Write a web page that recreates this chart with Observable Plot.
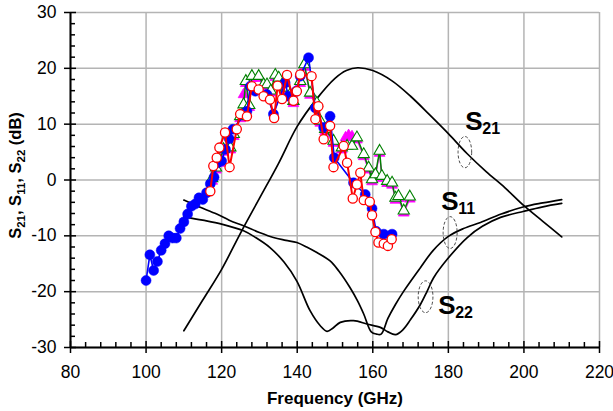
<!DOCTYPE html>
<html><head><meta charset="utf-8">
<script src="https://cdn.jsdelivr.net/npm/d3@7"></script>
<script src="https://cdn.jsdelivr.net/npm/@observablehq/plot@0.6"></script>
<style>body{margin:0;background:#fff}</style>
</head><body><div id="chart"></div>
<script>
// Axis ticks
const xTicks = [80, 100, 120, 140, 160, 180, 200, 220];
const yTicks = [-30, -20, -10, 0, 10, 20, 30];
const xMinor = [84, 88, 92, 96, 104, 108, 112, 116, 124, 128, 132, 136, 144, 148, 152, 156, 164, 168, 172, 176, 184, 188, 192, 196, 204, 208, 212, 216];
const yMinor = [-28, -26, -24, -22, -18, -16, -14, -12, -8, -6, -4, -2, 2, 4, 6, 8, 12, 14, 16, 18, 22, 24, 26, 28];

// Simulated curves (black)
const s21X = [110, 115, 120, 125, 130, 135, 140, 145, 150, 153, 156, 160, 165, 170, 175, 180, 185, 190, 195, 200, 205, 210];
const s21Y = [-27, -21.5, -16, -9.5, -3.3, 2.9, 9.6, 14.4, 18.2, 19.6, 20.1, 19.6, 17.8, 15.0, 11.7, 8.3, 4.7, 1.5, -1.4, -4.6, -7.4, -10.2];
const s11X = [110, 114, 118.7, 122, 125.8, 130, 133.7, 137, 139.9, 142.5, 145.2, 148.7, 151, 154, 156, 157.6, 159.6, 161, 162.2, 164, 166, 168.2, 172.6, 176, 180, 184, 188.5, 194, 200, 205, 210];
const s11Y = [-3.6, -4.8, -6.1, -7.2, -8.2, -9.4, -10.3, -10.8, -11.2, -12.0, -13.0, -14.5, -16.3, -19.3, -21.7, -24, -27.2, -27.6, -27.6, -24.8, -22.3, -19.9, -15.7, -12.6, -10.1, -8.7, -7.6, -6.1, -4.8, -4.1, -3.5];
const s22X = [110, 115, 120, 125.8, 129, 132.8, 136.5, 139.9, 143.4, 146.1, 147.9, 149.5, 151.4, 154.9, 158.5, 162, 164, 166, 168, 170, 172.6, 174.4, 176.1, 179.7, 185, 189, 193.8, 200, 205, 210];
const s22Y = [-6.6, -7.2, -7.9, -9.1, -10.3, -12.1, -14.7, -18.1, -23.4, -26.1, -27.1, -26.5, -25.5, -25.2, -25.8, -26.4, -27.2, -27.7, -26.8, -25.0, -22.3, -19.9, -17.5, -14.2, -10.3, -8.3, -6.7, -5.6, -4.8, -4.2];

// Measured series
const blueX = [100, 101, 102, 103, 104, 105, 106, 107, 108, 109, 110, 111, 112, 113, 114, 115, 116, 117, 118, 119, 120, 121, 122, 123, 126.7, 127.6, 128.9, 132, 133.7, 136.8, 137.7, 139.7, 140.8, 143, 144.8, 147, 148.7, 149.8, 154.9, 158, 159.8, 160.9, 162.9, 165.1];
const blueY = [-18, -13.4, -16.2, -14.6, -12.6, -11.4, -10, -10.4, -10.4, -8.7, -7.5, -6.1, -4.7, -4.3, -3.2, -3.5, -2.3, -0.7, 0.5, 3.1, 3.4, 5.5, 7.4, 9.1, 12.3, 16.8, 15.9, 15.3, 11.8, 17.4, 15, 15.9, 18.6, 21.9, 12.9, 9.4, 11.4, 4, -0.5, -2.6, -5.1, -9.2, -9.7, -9.7];
const redX = [117, 117.8, 118.7, 119.4, 120.9, 122.1, 124, 124.9, 126.7, 128, 129.8, 131.1, 132.8, 133.9, 134.8, 136, 137.3, 139, 139.9, 140.8, 143.8, 144.8, 145.6, 147, 148.7, 149.6, 152.3, 153.2, 154.7, 155.8, 156.7, 157.6, 159.2, 159.8, 160.7, 161.5, 162.9, 164, 165];
const redY = [-2, 2.5, 4, 5.8, 8.5, 2.3, 9.1, 11.8, 11.4, 16.8, 16.2, 15, 14.4, 11.1, 16.9, 14.5, 18.8, 14.2, 15.9, 18.9, 18.6, 10.9, 13.2, 7.3, 9.7, 2.3, 6.1, 3.1, -3.3, -0.8, 1.3, -3.6, -3.9, -6.3, -9.3, -11.2, -11.4, -11.8, -10.6];
const greenX = [117.5, 118.5, 119.5, 120.5, 122.3, 123.2, 124.9, 125.8, 126.4, 127.3, 128, 129.8, 131.1, 132, 133, 134.2, 135.1, 136, 137, 138.1, 139, 140.8, 141.9, 143.4, 145.2, 146.1, 147.4, 149.6, 151.8, 153.2, 154.5, 155.8, 157.6, 158.9, 159.8, 160.7, 161.8, 162.4, 163.8, 165.1, 166, 166.8, 168.2, 169.8];
const greenY = [0.3, 2.2, 3.5, 5.5, 5.8, 8.2, 11.4, 13.5, 17.7, 13.4, 18.6, 18.6, 17.1, 17.1, 16, 18.8, 18.3, 17.1, 16.5, 15.3, 14.1, 17.7, 20.7, 15.6, 13.8, 10.6, 9.1, 7, 5.8, 6.1, 6.1, 7.6, 4.6, 2.2, 0.1, 1, 5.2, 0.7, -0.2, -0.5, -3.2, -2.9, -5.5, -3];
const magentaX = [117.5, 118.5, 119.5, 120.5, 122.3, 123.2, 124.9, 125.8, 126.4, 127.3, 128, 129.8, 131.1, 132, 133, 134.2, 135.1, 136, 137, 138.1, 139, 140.8, 141.9, 143.4, 145.2, 146.1, 147.4, 149.6, 151.8, 152.8, 153.6, 154.5, 155.8, 157.6, 158.9, 159.8, 160.7, 161.8, 162.4, 163.8, 165.1, 166, 166.8, 168.2, 169.8];
const magentaY = [-0.2, 1.8, 3, 5, 5.4, 7.8, 11, 15.3, 17.3, 13, 18.2, 18.2, 16.7, 16.6, 15.6, 18.4, 17.8, 16.7, 16.1, 14.9, 13.7, 17.3, 20.2, 15.2, 13.4, 10.2, 8.7, 6.6, 5.4, 7.6, 8, 7.8, 7.2, 4.2, 1.8, -0.3, 0.6, 4.8, 0.3, -0.6, -0.9, -3.6, -3.3, -5.9, -3.4];

// Curve labels and dashed ellipses
const labelText = ["S", "S", "S"];
const labelSub = ["21", "11", "22"];
const labelX = [184.5, 178.1, 177.3];
const labelY = [8.9, -5.4, -24.0];
const ellX = [184.5, 180.6, 174.1];
const ellY = [4.9, -9.5, -21.0];
const ellRx = [1.8, 1.85, 1.95];
const ellRy = [2.8, 2.85, 2.85];

const rows = (xs, ys) => xs.map((x, i) => ({x, y: ys[i]}));
const labels = labelText.map((t, i) => ({t, sub: labelSub[i], x: labelX[i], y: labelY[i]}));
const ellipses = ellX.map((x, i) => ({x, y: ellY[i], rx: ellRx[i], ry: ellRy[i]}));

const gridStyle = {stroke: "#b4b4b4", strokeWidth: 1.5};
const FONT = "'Liberation Sans', Arial, Helvetica, sans-serif";

function ellipseMark(index, scales) {
  const g = d3.create("svg:g").attr("fill", "none").attr("stroke", "#333").attr("stroke-width", 0.9).attr("stroke-dasharray", "3,2");
  for (const e of ellipses) {
    const cx = scales.x(e.x), cy = scales.y(e.y);
    g.append("ellipse").attr("cx", cx).attr("cy", cy)
      .attr("rx", Math.abs(scales.x(e.x + e.rx) - cx))
      .attr("ry", Math.abs(scales.y(e.y + e.ry) - cy));
  }
  return g.node();
}

function yLabelMark(index, scales, values, dimensions) {
  const {marginTop, height, marginBottom} = dimensions;
  const cy = (marginTop + height - marginBottom) / 2 - 4;
  const t = d3.create("svg:text")
    .attr("transform", `translate(21,${cy}) rotate(-90)`)
    .attr("text-anchor", "middle")
    .attr("font-family", FONT)
    .attr("font-weight", "bold")
    .attr("font-size", 16.5)
    .attr("fill", "black");
  const parts = [["S", false], ["21", true], [", S", false], ["11", true], [", S", false], ["22", true], [" (dB)", false]];
  for (const [s, sub] of parts) {
    t.append("tspan").attr("font-size", sub ? 11.5 : 16.5).attr("dy", sub ? "4" : "-4").text(s);
  }
  t.select("tspan").attr("dy", 0);
  return t.node();
}

const chart = Plot.plot({
  width: 613,
  height: 411,
  marginLeft: 70,
  marginRight: 14,
  marginTop: 12,
  marginBottom: 64,
  style: {fontFamily: FONT, fontSize: "17.5px", color: "black", background: "white", overflow: "visible"},
  x: {domain: [80, 220], ticks: xTicks, tickSize: 0, tickPadding: 18, tickFormat: d => String(d), label: null},
  y: {domain: [-30, 30], ticks: yTicks, tickSize: 0, tickPadding: 14, tickFormat: d => String(d), label: null},
  marks: [
    Plot.ruleX(xTicks, gridStyle),
    Plot.ruleY(yTicks, gridStyle),
    Plot.line(rows(s21X, s21Y), {x: "x", y: "y", stroke: "black", strokeWidth: 1.7, curve: "catmull-rom"}),
    Plot.line(rows(s11X, s11Y), {x: "x", y: "y", stroke: "black", strokeWidth: 1.7, curve: "catmull-rom"}),
    Plot.line(rows(s22X, s22Y), {x: "x", y: "y", stroke: "black", strokeWidth: 1.7, curve: "catmull-rom"}),
    Plot.line(rows(magentaX, magentaY), {x: "x", y: "y", stroke: "#ff00ff", strokeWidth: 1.2}),
    Plot.dot(rows(magentaX, magentaY), {x: "x", y: "y", symbol: "triangle", r: 4, fill: "#ff00ff", stroke: "#ff00ff", strokeWidth: 0.8}),
    Plot.line(rows(greenX, greenY), {x: "x", y: "y", stroke: "#008000", strokeWidth: 1.5}),
    Plot.dot(rows(greenX, greenY), {x: "x", y: "y", symbol: "triangle", r: 4.2, fill: "white", stroke: "#008000", strokeWidth: 1.1}),
    Plot.line(rows(blueX, blueY), {x: "x", y: "y", stroke: "#0000ff", strokeWidth: 1.6}),
    Plot.dot(rows(blueX, blueY), {x: "x", y: "y", r: 5, fill: "#0000ff", stroke: "#0000ff", strokeWidth: 0.5}),
    Plot.line(rows(redX, redY), {x: "x", y: "y", stroke: "#ff0000", strokeWidth: 2}),
    Plot.dot(rows(redX, redY), {x: "x", y: "y", r: 4.6, fill: "white", stroke: "#ff0000", strokeWidth: 1.3}),
    ellipseMark,
    Plot.text(labels, {x: "x", y: "y", text: "t", textAnchor: "start", lineAnchor: "bottom", fontSize: 26, fontWeight: "bold", fill: "black"}),
    Plot.text(labels, {x: "x", y: "y", text: "sub", textAnchor: "start", lineAnchor: "bottom", dx: 17, dy: 4, fontSize: 16, fontWeight: "bold", fill: "black"}),
    Plot.ruleX([80], {stroke: "black", strokeWidth: 2}),
    Plot.ruleY([-30], {stroke: "black", strokeWidth: 2}),
    Plot.tickX(xMinor, {x: d => d, stroke: "black", strokeWidth: 1.5, insetTop: 330}),
    Plot.tickX(xTicks, {x: d => d, stroke: "black", strokeWidth: 1.5, insetTop: 329, insetBottom: -6}),
    Plot.tickY(yMinor, {y: d => d, stroke: "black", strokeWidth: 1.5, insetRight: 524}),
    Plot.tickY(yTicks, {y: d => d, stroke: "black", strokeWidth: 1.5, insetRight: 523, insetLeft: -6}),
    Plot.text(["Frequency (GHz)"], {frameAnchor: "bottom", text: d => d, lineAnchor: "bottom", dy: 56, fontSize: 17, fontWeight: "bold", fill: "black"}),
    yLabelMark
  ]
});
document.getElementById("chart").appendChild(chart);
</script>
</body></html>
